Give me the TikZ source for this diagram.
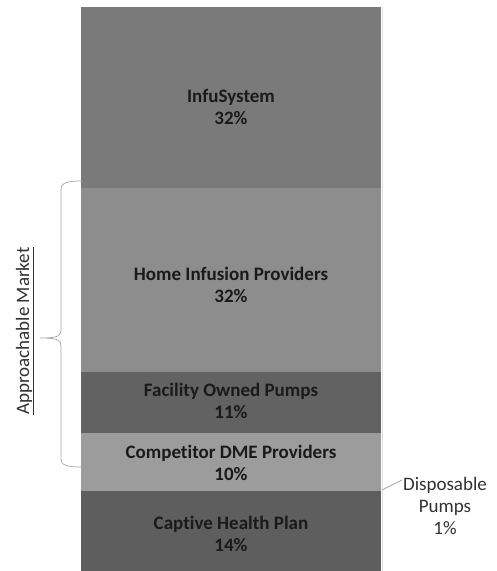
\documentclass[tikz,border=0pt]{standalone}
\usepackage{fontspec}
\setmainfont[Ligatures={NoCommon}]{Carlito}
\definecolor{cInfu}{HTML}{7A7A7A}
\definecolor{cHome}{HTML}{8D8D8D}
\definecolor{cFac}{HTML}{626262}
\definecolor{cComp}{HTML}{9C9C9C}
\definecolor{cCap}{HTML}{5E5E5E}
\definecolor{cTxt}{HTML}{1A1A1A}
\begin{document}
\begin{tikzpicture}[x=1pt,y=-1pt,
  seglabel/.style={text=cTxt,font=\fontsize{19}{22}\selectfont\bfseries,align=center,inner sep=0pt},
  sidelabel/.style={text=cTxt!90,font=\fontsize{19}{22}\selectfont,align=center,inner sep=0pt},
  thinline/.style={draw=gray!70,line width=0.7pt}]
\useasboundingbox (0,0) rectangle (497,571);
% segments
\fill[cInfu] (81,7) rectangle (381,188);
\fill[cHome] (81,188) rectangle (381,372);
\fill[cFac] (81,372) rectangle (381,433);
\fill[cComp] (81,433) rectangle (381,491);
\fill[cCap] (81,491) rectangle (381,571);
\draw[gray!25,line width=1pt] (382,7) -- (382,571);
% labels
\node[seglabel] (infu) at (231,107) {InfuSystem\\32\%};
\node[seglabel] (home) at (231,285) {Home Infusion Providers\\32\%};
\node[seglabel] (fac) at (231,401) {Facility Owned Pumps\\11\%};
\node[seglabel] (comp) at (231,463) {Competitor DME Providers\\10\%};
\node[seglabel] (cap) at (231,534) {Captive Health Plan\\14\%};
% disposable
\node[sidelabel] (disp) at (445,506) {Disposable\\Pumps\\1\%};
\coordinate (dpA) at (382,490);
\coordinate (dpB) at (402,480);
\draw[thinline] (dpA) -- (dpB);
% brace
\coordinate (bTop) at (82,181);
\coordinate (bTip) at (40,338);
\coordinate (bBot) at (82,467);
\draw[thinline]
  (bTop) .. controls (66,181) and (61,183) .. (61,190)
  -- (61,330) .. controls (61,336) and (58,338) .. (bTip)
  (bTip) .. controls (58,338) and (61,340) .. (61,346)
  -- (61,459) .. controls (61,465) and (66,467) .. (bBot);
\node[sidelabel,rotate=90] (appr) at (25,331) {\underline{Approachable Market}};
\end{tikzpicture}
\end{document}
